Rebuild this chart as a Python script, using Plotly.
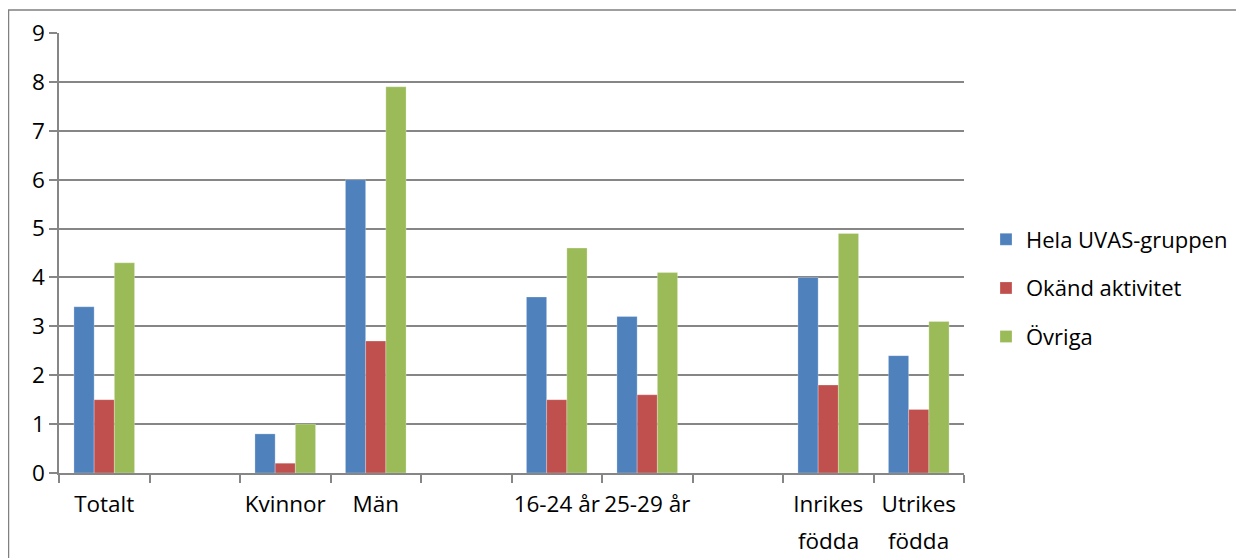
import plotly.graph_objects as go

categories = ["Totalt", " ", "Kvinnor", "Män", "  ", "16-24 år", "25-29 år", "   ", "Inrikes födda", "Utrikes födda"]
hela = [3.4, None, 0.8, 6.0, None, 3.6, 3.2, None, 4.0, 2.4]
okand = [1.5, None, 0.2, 2.7, None, 1.5, 1.6, None, 1.8, 1.3]
ovriga = [4.3, None, 1.0, 7.9, None, 4.6, 4.1, None, 4.9, 3.1]
series_names = ["Hela UVAS-gruppen", "Okänd aktivitet", "Övriga"]
colors = ["#4F81BD", "#C0504D", "#9BBB59"]
y_ticks = list(range(0, 10))

FONT = "Open Sans"
FS = 22.5
W, H = 1236, 550
L, R, T, B = 51, 280, 25, 85

fig = go.Figure()
for i, (name, vals) in enumerate(zip(series_names, [hela, okand, ovriga])):
    fig.add_trace(go.Bar(
        x=categories, y=vals, name=name,
        marker=dict(color=colors[i], line=dict(color="rgba(255,255,255,0.5)", width=0.5)),
        legendgroup=name,
    ))

pw = W - L - R
ph = H - T - B
fig.add_shape(type="rect", xref="paper", yref="paper",
              x0=(0.5 - L) / pw, x1=(W + 20 - L) / pw,
              y0=(H - B - H - 20) / ph, y1=(H - B - 2) / ph,
              line=dict(color="#808080", width=1.5), fillcolor="rgba(0,0,0,0)", layer="below")

# first line of each label on the axis, second line (if any) as annotation below
tick_text = [c.split(" ")[0] if c.strip() and c.count(" ") == 1 and not c.endswith("år") else c for c in categories]
for c in categories:
    parts = c.split(" ")
    if c.strip() and len(parts) == 2 and not c.endswith("år"):
        fig.add_annotation(x=c, xref="x", y=(465 - 532) / ph, yref="paper",
                           text=parts[1], showarrow=False, yanchor="middle",
                           font=dict(family=FONT, size=FS, color="black"))

gray = "#868686"
fig.update_layout(
    width=W, height=H,
    margin=dict(l=L, r=R, t=T, b=B, autoexpand=False),
    paper_bgcolor="white", plot_bgcolor="white",
    barmode="group", bargap=0.33, bargroupgap=0,
    font=dict(family=FONT, size=FS, color="black"),
    showlegend=True,
    legend=dict(x=(978 - L) / pw, y=(465 - 280) / ph, xanchor="left", yanchor="middle",
                font=dict(family=FONT, size=22), tracegroupgap=17,
                itemwidth=30, traceorder="grouped"),
    xaxis=dict(
        type="category", categoryorder="array", categoryarray=categories,
        tickvals=categories, ticktext=tick_text,
        tickson="boundaries", ticks="outside", ticklen=8, tickcolor=gray, tickwidth=1.5,
        showline=True, linecolor=gray, linewidth=1.5, tickangle=0, automargin=False,
        ticklabelstandoff=10,
        showgrid=False, range=[-0.5, len(categories) - 0.5],
        tickfont=dict(family=FONT, size=FS),
    ),
    yaxis=dict(
        range=[0, 9], tickvals=y_ticks, ticks="outside", ticklen=8,
        tickcolor=gray, tickwidth=1.5, automargin=False,
        showline=True, linecolor=gray, linewidth=1.5,
        showgrid=True, gridcolor=gray, gridwidth=1.5,
        zeroline=False, tickfont=dict(family=FONT, size=FS),
    ),
)

fig.write_html("out.html")
